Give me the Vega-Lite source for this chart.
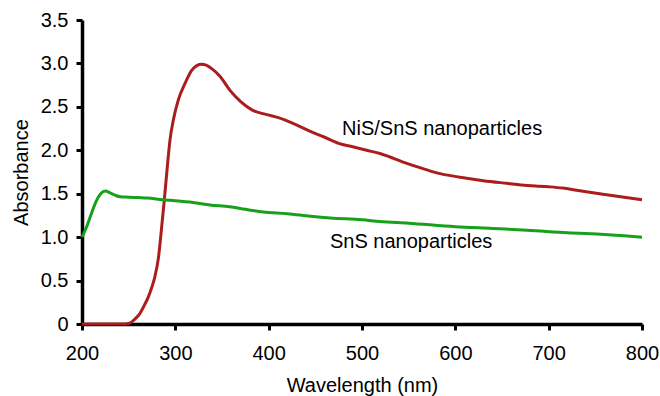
{
  "$schema": "https://vega.github.io/schema/vega-lite/v6.json",
  "width": 560,
  "height": 304,
  "autosize": "none",
  "padding": {"left": 82, "top": 20, "right": 18, "bottom": 72},
  "background": "white",
  "config": {
    "view": {"stroke": null},
    "font": "Liberation Sans",
    "axis": {
      "grid": false,
      "domainColor": "black",
      "domainWidth": 3.5,
      "tickColor": "black",
      "tickWidth": 3,
      "tickSize": 6,
      "labelFont": "Liberation Sans",
      "labelFontSize": 20,
      "labelColor": "black",
      "labelFlush": false,
      "labelOverlap": false,
      "titleFont": "Liberation Sans",
      "titleFontSize": 20,
      "titleFontWeight": "normal",
      "titleColor": "black"
    }
  },
  "datasets": {
    "curves": [
      {"w": 200, "a": 0, "s": "NiS/SnS"},
      {"w": 220, "a": 0, "s": "NiS/SnS"},
      {"w": 240, "a": 0, "s": "NiS/SnS"},
      {"w": 246, "a": 0.0, "s": "NiS/SnS"},
      {"w": 251, "a": 0.01, "s": "NiS/SnS"},
      {"w": 256, "a": 0.05, "s": "NiS/SnS"},
      {"w": 262, "a": 0.12, "s": "NiS/SnS"},
      {"w": 267, "a": 0.22, "s": "NiS/SnS"},
      {"w": 271, "a": 0.31, "s": "NiS/SnS"},
      {"w": 275, "a": 0.43, "s": "NiS/SnS"},
      {"w": 278, "a": 0.54, "s": "NiS/SnS"},
      {"w": 282, "a": 0.77, "s": "NiS/SnS"},
      {"w": 285.4, "a": 1.12, "s": "NiS/SnS"},
      {"w": 288.2, "a": 1.43, "s": "NiS/SnS"},
      {"w": 291.4, "a": 1.81, "s": "NiS/SnS"},
      {"w": 294.3, "a": 2.12, "s": "NiS/SnS"},
      {"w": 297.9, "a": 2.35, "s": "NiS/SnS"},
      {"w": 303.2, "a": 2.58, "s": "NiS/SnS"},
      {"w": 310.4, "a": 2.77, "s": "NiS/SnS"},
      {"w": 317.5, "a": 2.92, "s": "NiS/SnS"},
      {"w": 323, "a": 2.975, "s": "NiS/SnS"},
      {"w": 328, "a": 2.99, "s": "NiS/SnS"},
      {"w": 333, "a": 2.98, "s": "NiS/SnS"},
      {"w": 339, "a": 2.94, "s": "NiS/SnS"},
      {"w": 348, "a": 2.85, "s": "NiS/SnS"},
      {"w": 358.6, "a": 2.69, "s": "NiS/SnS"},
      {"w": 370, "a": 2.56, "s": "NiS/SnS"},
      {"w": 383, "a": 2.46, "s": "NiS/SnS"},
      {"w": 398, "a": 2.41, "s": "NiS/SnS"},
      {"w": 412, "a": 2.37, "s": "NiS/SnS"},
      {"w": 428, "a": 2.3, "s": "NiS/SnS"},
      {"w": 444, "a": 2.22, "s": "NiS/SnS"},
      {"w": 460, "a": 2.15, "s": "NiS/SnS"},
      {"w": 475, "a": 2.08, "s": "NiS/SnS"},
      {"w": 490, "a": 2.04, "s": "NiS/SnS"},
      {"w": 505, "a": 2.0, "s": "NiS/SnS"},
      {"w": 520, "a": 1.96, "s": "NiS/SnS"},
      {"w": 548, "a": 1.85, "s": "NiS/SnS"},
      {"w": 562, "a": 1.8, "s": "NiS/SnS"},
      {"w": 580, "a": 1.74, "s": "NiS/SnS"},
      {"w": 605, "a": 1.69, "s": "NiS/SnS"},
      {"w": 630, "a": 1.65, "s": "NiS/SnS"},
      {"w": 655, "a": 1.62, "s": "NiS/SnS"},
      {"w": 677, "a": 1.595, "s": "NiS/SnS"},
      {"w": 700, "a": 1.58, "s": "NiS/SnS"},
      {"w": 715, "a": 1.565, "s": "NiS/SnS"},
      {"w": 730, "a": 1.54, "s": "NiS/SnS"},
      {"w": 760, "a": 1.49, "s": "NiS/SnS"},
      {"w": 800, "a": 1.43, "s": "NiS/SnS"},
      {"w": 200, "a": 1.0, "s": "SnS"},
      {"w": 205, "a": 1.12, "s": "SnS"},
      {"w": 210, "a": 1.27, "s": "SnS"},
      {"w": 215, "a": 1.41, "s": "SnS"},
      {"w": 220, "a": 1.5, "s": "SnS"},
      {"w": 225, "a": 1.53, "s": "SnS"},
      {"w": 230, "a": 1.51, "s": "SnS"},
      {"w": 236, "a": 1.48, "s": "SnS"},
      {"w": 241, "a": 1.465, "s": "SnS"},
      {"w": 250, "a": 1.46, "s": "SnS"},
      {"w": 260, "a": 1.455, "s": "SnS"},
      {"w": 270, "a": 1.45, "s": "SnS"},
      {"w": 287, "a": 1.43, "s": "SnS"},
      {"w": 300, "a": 1.42, "s": "SnS"},
      {"w": 319, "a": 1.4, "s": "SnS"},
      {"w": 337, "a": 1.37, "s": "SnS"},
      {"w": 358, "a": 1.35, "s": "SnS"},
      {"w": 375, "a": 1.32, "s": "SnS"},
      {"w": 394, "a": 1.29, "s": "SnS"},
      {"w": 420, "a": 1.27, "s": "SnS"},
      {"w": 445, "a": 1.24, "s": "SnS"},
      {"w": 466, "a": 1.22, "s": "SnS"},
      {"w": 500, "a": 1.2, "s": "SnS"},
      {"w": 519, "a": 1.18, "s": "SnS"},
      {"w": 550, "a": 1.16, "s": "SnS"},
      {"w": 600, "a": 1.12, "s": "SnS"},
      {"w": 640, "a": 1.1, "s": "SnS"},
      {"w": 677, "a": 1.08, "s": "SnS"},
      {"w": 720, "a": 1.05, "s": "SnS"},
      {"w": 760, "a": 1.03, "s": "SnS"},
      {"w": 800, "a": 1.0, "s": "SnS"}
    ],
    "labels": [
      {"w": 478.6, "a": 2.245, "label": "NiS/SnS nanoparticles"},
      {"w": 465.7, "a": 0.944, "label": "SnS nanoparticles"}
    ]
  },
  "layer": [
    {
      "data": {"name": "curves"},
      "mark": {"type": "line", "interpolate": "monotone", "strokeWidth": 3},
      "encoding": {
        "x": {
          "field": "w", "type": "quantitative",
          "scale": {"domain": [200, 800], "nice": false},
          "axis": {"values": [200, 300, 400, 500, 600, 700, 800], "title": "Wavelength (nm)", "labelPadding": 13, "titlePadding": 12}
        },
        "y": {
          "field": "a", "type": "quantitative",
          "scale": {"domain": [0, 3.5], "nice": false},
          "axis": {
            "values": [0, 0.5, 1, 1.5, 2, 2.5, 3, 3.5],
            "labelExpr": "datum.value == 0 ? '0' : format(datum.value, '.1f')",
            "title": "Absorbance",
            "labelPadding": 8,
            "titlePadding": 9
          }
        },
        "color": {
          "field": "s", "type": "nominal",
          "scale": {"domain": ["NiS/SnS", "SnS"], "range": ["#ab1d1d", "#17a01a"]},
          "legend": null
        }
      }
    },
    {
      "data": {"name": "labels"},
      "mark": {"type": "text", "align": "left", "baseline": "middle", "fontSize": 20, "font": "Liberation Sans", "color": "black"},
      "encoding": {
        "x": {"field": "w", "type": "quantitative"},
        "y": {"field": "a", "type": "quantitative"},
        "text": {"field": "label"}
      }
    }
  ]
}
